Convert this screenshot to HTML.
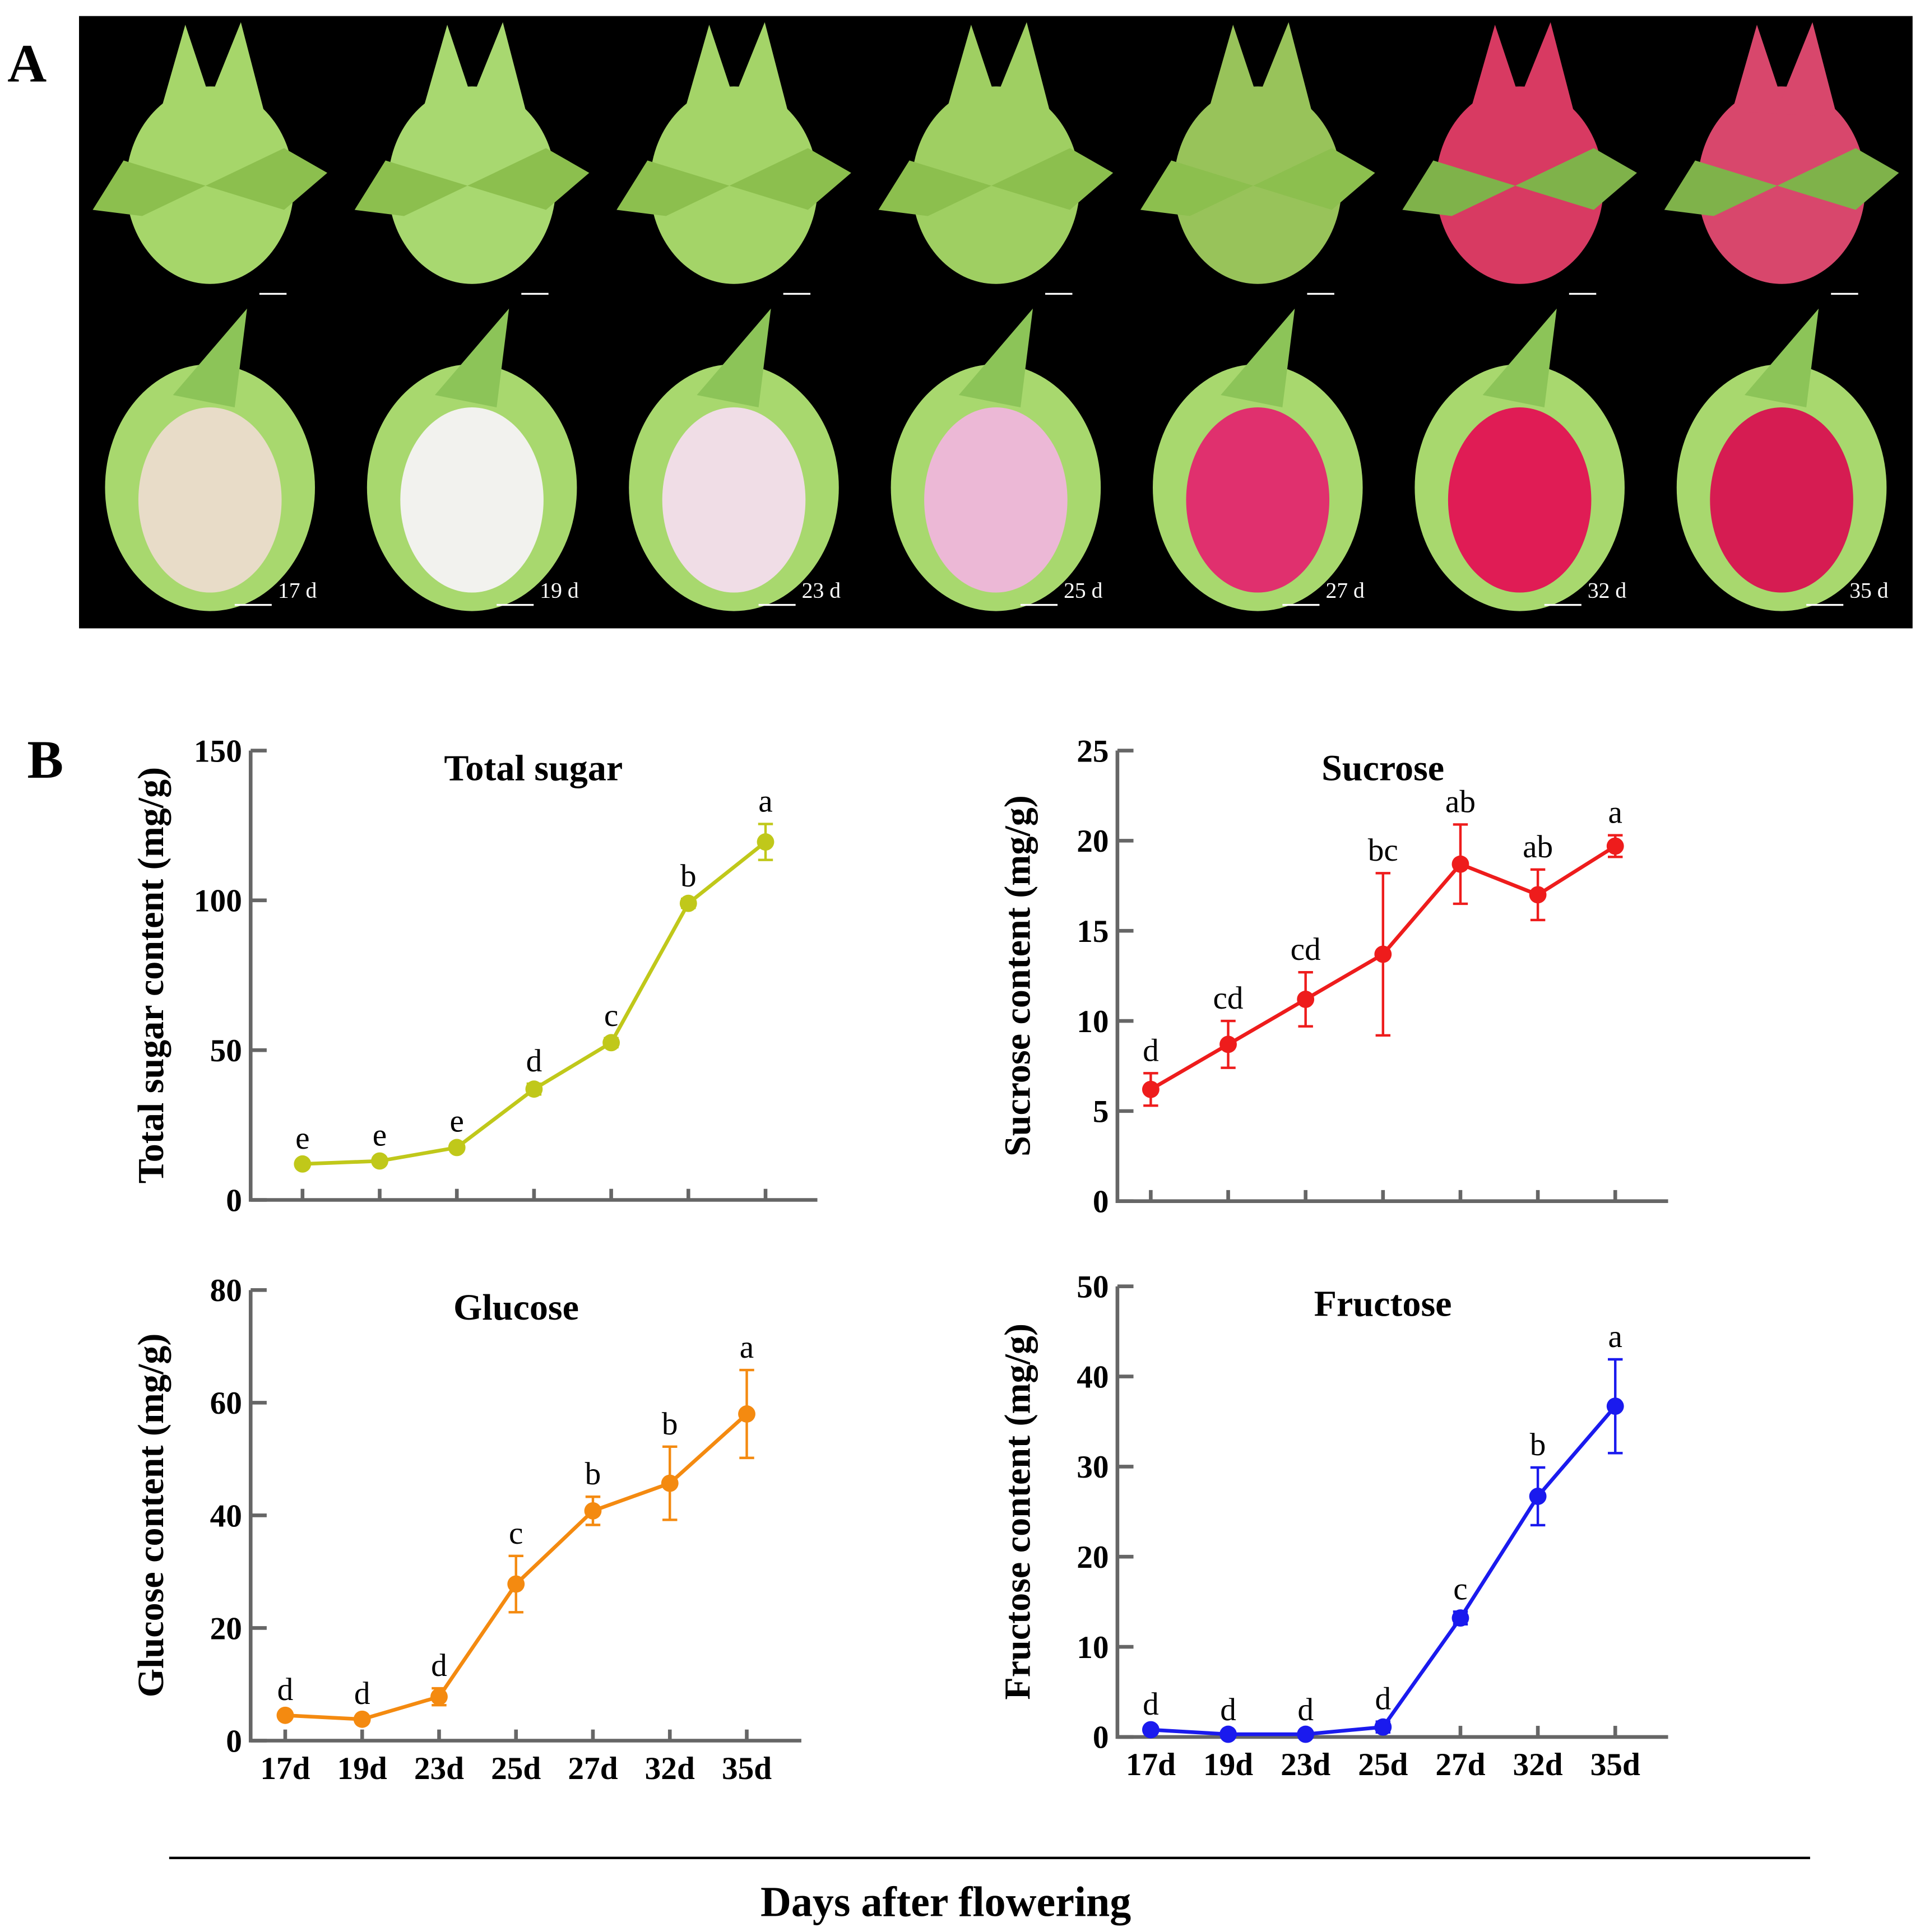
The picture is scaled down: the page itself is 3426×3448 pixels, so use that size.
<!DOCTYPE html>
<html><head><meta charset="utf-8"><style>
html,body{margin:0;padding:0;background:#fff;}
svg{display:block;}
text{font-family:"Liberation Serif",serif;}
</style></head><body>
<svg id="fig" width="3426" height="3448" viewBox="0 0 1555 1565" xmlns="http://www.w3.org/2000/svg">
<text x="6" y="66" font-size="44" font-weight="bold">A</text>
<rect x="64" y="13" width="1485" height="496" fill="#000"/>
<g id="photos"></g>
<text x="22" y="630" font-size="44" font-weight="bold">B</text>
<g id="charts"></g>
<line x1="137" y1="1505" x2="1466" y2="1505" stroke="#000" stroke-width="2"/>
<text x="766" y="1552" font-size="34.5" font-weight="bold" text-anchor="middle">Days after flowering</text>
</svg>
<script>
const NS="http://www.w3.org/2000/svg";
function mk(tag,attrs,parent,txt){const e=document.createElementNS(NS,tag);for(const k in attrs)e.setAttribute(k,attrs[k]);if(txt!==undefined)e.textContent=txt;parent.appendChild(e);return e;}

const days=["17 d","19 d","23 d","25 d","27 d","32 d","35 d"];
const skin=["#a6d66a","#a8d870","#a4d468","#9fcf62","#98c35a","#d83a62","#d8476c"];
const flesh=["#e8dcc8","#f2f2ee","#f0dde6","#ecb8d6","#e0306e","#e01c55","#d61c52"];
const ph=document.getElementById('photos');
for(let i=0;i<7;i++){
  const cx=64+1485/7*(i+0.5);
  const g=mk('g',{},ph);
  
  
  mk('ellipse',{cx:cx,cy:150,rx:68,ry:80,fill:skin[i]},g);
  mk('polygon',{points:`${cx-40},90 ${cx-20},20 ${cx},80 ${cx+25},18 ${cx+45},95`,fill:skin[i]},g);
  mk('polygon',{points:`${cx-70},130 ${cx-95},170 ${cx-55},175 ${cx+60},120 ${cx+95},140 ${cx+60},170`,fill:i<5?"#8cbf4e":"#7fb24a"},g);
  mk('line',{x1:cx+40,y1:238,x2:cx+62,y2:238,stroke:"#fff","stroke-width":1.5},g);
  mk('ellipse',{cx:cx,cy:395,rx:85,ry:100,fill:"#a8d86e"},g);
  mk('polygon',{points:`${cx-30},320 ${cx+30},250 ${cx+20},330`,fill:"#8cc458"},g);
  mk('ellipse',{cx:cx,cy:405,rx:58,ry:75,fill:flesh[i]},g);
  mk('line',{x1:cx+20,y1:490,x2:cx+50,y2:490,stroke:"#fff","stroke-width":1.5},g);
  const t=mk('text',{x:cx+55,y:484,"font-size":18,fill:"#fff"},g,days[i]);
  
  
}

const categories=["17d","19d","23d","25d","27d","32d","35d"];
const totalVals=[12,13,17.5,37,52.5,99,119.5];
const totalErr=[1,1,1.2,1.8,1.5,1.5,6];
const totalLetters=["e","e","e","d","c","b","a"];
const totalTicks=[0,50,100,150];
const sucVals=[6.2,8.7,11.2,13.7,18.7,17.0,19.7];
const sucErr=[0.9,1.3,1.5,4.5,2.2,1.4,0.6];
const sucLetters=["d","cd","cd","bc","ab","ab","a"];
const sucTicks=[0,5,10,15,20,25];
const gluVals=[4.5,3.8,7.8,27.8,40.8,45.7,58];
const gluErr=[0.5,0.5,1.5,5,2.5,6.5,7.8];
const gluLetters=["d","d","d","c","b","b","a"];
const gluTicks=[0,20,40,60,80];
const fruVals=[0.8,0.3,0.3,1.1,13.2,26.7,36.7];
const fruErr=[0.3,0.2,0.2,0.6,0.7,3.2,5.2];
const fruLetters=["d","d","d","d","c","b","a"];
const fruTicks=[0,10,20,30,40,50];

const charts=[
 {id:"total",title:"Total sugar",ylab:"Total sugar content (mg/g)",vals:totalVals,err:totalErr,letters:totalLetters,ticks:totalTicks,color:"#c0c81a",ax:203,x1:662,ytop:608,ybot:972,px0:245,dx:62.5,xlabels:false,tx:432},
 {id:"sucrose",title:"Sucrose",ylab:"Sucrose content (mg/g)",vals:sucVals,err:sucErr,letters:sucLetters,ticks:sucTicks,color:"#ee1c1c",ax:905,x1:1351,ytop:608,ybot:973,px0:932,dx:62.7,xlabels:false,tx:1120},
 {id:"glucose",title:"Glucose",ylab:"Glucose content (mg/g)",vals:gluVals,err:gluErr,letters:gluLetters,ticks:gluTicks,color:"#f48a10",ax:203,x1:649,ytop:1045,ybot:1410,px0:231,dx:62.3,xlabels:true,tx:418},
 {id:"fructose",title:"Fructose",ylab:"Fructose content (mg/g)",vals:fruVals,err:fruErr,letters:fruLetters,ticks:fruTicks,color:"#1a1aee",ax:905,x1:1351,ytop:1042,ybot:1407,px0:932,dx:62.7,xlabels:true,tx:1120}
];
const root=document.getElementById('charts');
charts.forEach(c=>{
  const g=mk('g',{},root);
  
  
  const max=c.ticks[c.ticks.length-1];
  const y=v=>c.ybot-(v/max)*(c.ybot-c.ytop);
  const x=i=>c.px0+i*c.dx;
  const ax=mk('path',{d:`M${c.ax},${c.ytop}V${c.ybot}H${c.x1}`,fill:"none",stroke:"#666","stroke-width":3},g);
  
  
  c.ticks.forEach(t=>{
    mk('line',{x1:c.ax,x2:c.ax+13,y1:y(t),y2:y(t),stroke:"#666","stroke-width":3},g);
    const tl=mk('text',{x:c.ax-7,y:y(t)+9,"font-size":26,"font-weight":"bold","text-anchor":"end"},g,String(t));
    
    
  });
  categories.forEach((cat,i)=>{
    mk('line',{x1:x(i),x2:x(i),y1:c.ybot,y2:c.ybot-9,stroke:"#666","stroke-width":3},g);
    if(c.xlabels){
      const xl=mk('text',{x:x(i),y:c.ybot+31,"font-size":26,"font-weight":"bold","text-anchor":"middle"},g,cat);
      
      
    }
  });
  const tt=mk('text',{x:c.tx,y:c.ytop+24,"font-size":30,"font-weight":"bold","text-anchor":"middle"},g,c.title);
  
  
  const yc=(c.ytop+c.ybot)/2, yx=c.ax-71;
  const yl=mk('text',{x:yx,y:yc,"font-size":30,"font-weight":"bold","text-anchor":"middle",transform:`rotate(-90 ${yx} ${yc})`},g,c.ylab);
  
  
  const pts=c.vals.map((v,i)=>x(i)+","+y(v)).join(" ");
  const ln=mk('polyline',{points:pts,fill:"none",stroke:c.color,"stroke-width":3},g);
  
  
  c.vals.forEach((v,i)=>{
    const e=c.err[i];
    const eb=mk('path',{d:`M${x(i)},${y(v+e)}V${y(v-e)}M${x(i)-6},${y(v+e)}H${x(i)+6}M${x(i)-6},${y(v-e)}H${x(i)+6}`,stroke:c.color,"stroke-width":2,fill:"none"},g);
    
    
    const p=mk('circle',{cx:x(i),cy:y(v),r:7,fill:c.color},g);
    
    
    const lt=mk('text',{x:x(i),y:y(v+e)-10,"font-size":26,"text-anchor":"middle"},g,c.letters[i]);
    
    
  });
});
</script>
</body></html>
